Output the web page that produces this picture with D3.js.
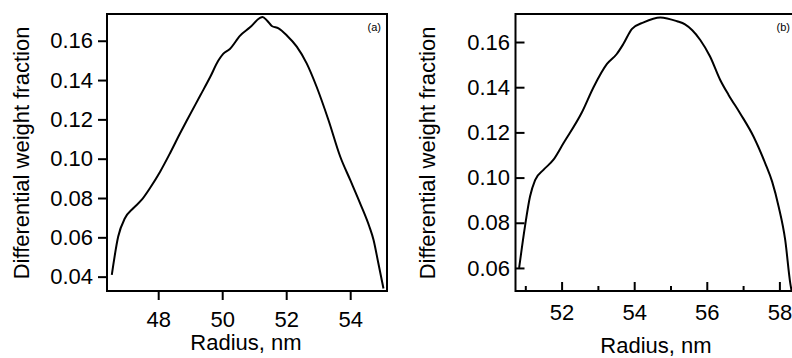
<!DOCTYPE html>
<html>
<head>
<meta charset="utf-8">
<script src="https://cdn.jsdelivr.net/npm/d3@7"></script>
<style>
  body { margin: 0; background: #fff; }
  svg { display: block; font-family: "Liberation Sans", Arial, sans-serif; }
  .axis text { font-size: 22px; fill: #000; }
  .axis line { stroke: #000; stroke-width: 2; }
  .axis path { display: none; }
</style>
</head>
<body>
<svg id="chart" width="792" height="358"></svg>
<script>
// Panel (a) data
var radiusA = [46.55, 46.75, 46.96, 47.22, 47.48, 47.74, 48.06, 48.37, 48.68, 48.89, 49.31, 49.62, 49.88, 50.03, 50.24, 50.56, 50.87, 51.18, 51.26, 51.4, 51.55, 51.76, 52.02, 52.33, 52.64, 52.95, 53.32, 53.69, 54.0, 54.31, 54.6, 54.73, 54.88, 55.04];
var fractionA = [0.0409, 0.0604, 0.0697, 0.0748, 0.079, 0.085, 0.0934, 0.1028, 0.1128, 0.1193, 0.132, 0.1414, 0.1499, 0.1533, 0.1558, 0.1626, 0.1668, 0.1716, 0.1721, 0.1703, 0.1675, 0.1663, 0.1627, 0.157, 0.1485, 0.1366, 0.1197, 0.101, 0.0892, 0.0773, 0.0654, 0.0587, 0.0468, 0.034];
var xTicksA = [48, 50, 52, 54];
var yTicksA = [0.04, 0.06, 0.08, 0.10, 0.12, 0.14, 0.16];

// Panel (b) data
var radiusB = [50.83, 50.99, 51.13, 51.27, 51.5, 51.77, 52.05, 52.56, 52.88, 53.25, 53.52, 53.7, 53.94, 54.26, 54.72, 55.18, 55.4, 55.6, 55.82, 56.09, 56.37, 56.6, 56.92, 57.29, 57.61, 57.8, 57.98, 58.16, 58.3, 58.34];
var fractionB = [0.06, 0.0783, 0.0916, 0.0989, 0.1034, 0.1078, 0.1152, 0.1289, 0.14, 0.1503, 0.1547, 0.1591, 0.1658, 0.1687, 0.1709, 0.1692, 0.1678, 0.1652, 0.1609, 0.1536, 0.1432, 0.1366, 0.1284, 0.1181, 0.1063, 0.0982, 0.0871, 0.0724, 0.0532, 0.0495];
var xTicksB = [52, 54, 56, 58];
var xMinorB = [51, 53, 55, 57];
var yTicksB = [0.06, 0.08, 0.10, 0.12, 0.14, 0.16];

var svg = d3.select("#chart");
var fmt = d3.format(".2f");

function drawPanel(p) {
    var g = svg.append("g");
    var x = d3.scaleLinear().domain(p.xDomain).range([p.left, p.right]);
    var y = d3.scaleLinear().domain(p.yDomain).range([p.bottom, p.top]);

    // clip so the curve stays inside the frame
    svg.append("clipPath").attr("id", "clip" + p.name)
        .append("rect")
        .attr("x", p.left).attr("y", p.top)
        .attr("width", p.right - p.left).attr("height", p.bottom - p.top);

    var line = d3.line()
        .x(function (d) { return x(d[0]); })
        .y(function (d) { return y(d[1]); })
        .curve(d3.curveMonotoneX);

    var pts = p.rx.map(function (r, i) { return [r, p.vy[i]]; });

    g.append("path")
        .datum(pts)
        .attr("clip-path", "url(#clip" + p.name + ")")
        .attr("d", line)
        .attr("fill", "none")
        .attr("stroke", "#000")
        .attr("stroke-width", 2)
        .attr("stroke-linejoin", "round");

    // axes
    g.append("g").attr("class", "axis")
        .attr("transform", "translate(0," + p.bottom + ")")
        .call(d3.axisBottom(x).tickValues(p.xTicks).tickSize(p.tickIn ? -9 : 9)
            .tickPadding(p.tickIn ? 13 : 11).tickFormat(d3.format("d")));

    if (p.xMinor) {
        g.append("g").attr("class", "axis")
            .attr("transform", "translate(0," + p.bottom + ")")
            .call(d3.axisBottom(x).tickValues(p.xMinor).tickSize(-5).tickFormat(""));
    }

    g.append("g").attr("class", "axis")
        .attr("transform", "translate(" + p.left + ",0)")
        .call(d3.axisLeft(y).tickValues(p.yTicks).tickSize(p.tickIn ? -9 : 9)
            .tickPadding(p.tickIn ? 5.5 : 5).tickFormat(fmt));

    // frame
    g.append("rect")
        .attr("x", p.left).attr("y", p.top)
        .attr("width", p.right - p.left).attr("height", p.bottom - p.top)
        .attr("fill", "none").attr("stroke", "#000").attr("stroke-width", 2);

    // titles
    g.append("text")
        .attr("transform", "translate(" + p.yTitleX + "," + ((p.top + p.bottom) / 2 + 0.5) + ") rotate(-90)")
        .attr("text-anchor", "middle")
        .style("font-size", "22px")
        .text("Differential weight fraction");

    g.append("text")
        .attr("x", p.xTitleX).attr("y", p.xTitleY)
        .attr("text-anchor", "middle")
        .style("font-size", "22px")
        .text("Radius, nm");

    g.append("text")
        .attr("x", p.tagX).attr("y", 31)
        .attr("text-anchor", "end")
        .style("font-size", "11px")
        .text(p.tag);
}

drawPanel({
    name: "a", tag: "(a)",
    left: 107, right: 387, top: 14, bottom: 291,
    xDomain: [46.4, 55.15], yDomain: [0.0327, 0.1736],
    rx: radiusA, vy: fractionA,
    xTicks: xTicksA, yTicks: yTicksA, tickIn: false,
    yTitleX: 28.5, xTitleX: 246, xTitleY: 350, tagX: 381
});

drawPanel({
    name: "b", tag: "(b)",
    left: 515.5, right: 795, top: 14, bottom: 291,
    xDomain: [50.73, 58.43], yDomain: [0.0498, 0.1724],
    rx: radiusB, vy: fractionB,
    xTicks: xTicksB, xMinor: xMinorB, yTicks: yTicksB, tickIn: true,
    yTitleX: 435, xTitleX: 656, xTitleY: 352.5, tagX: 790
});
</script>
</body>
</html>
